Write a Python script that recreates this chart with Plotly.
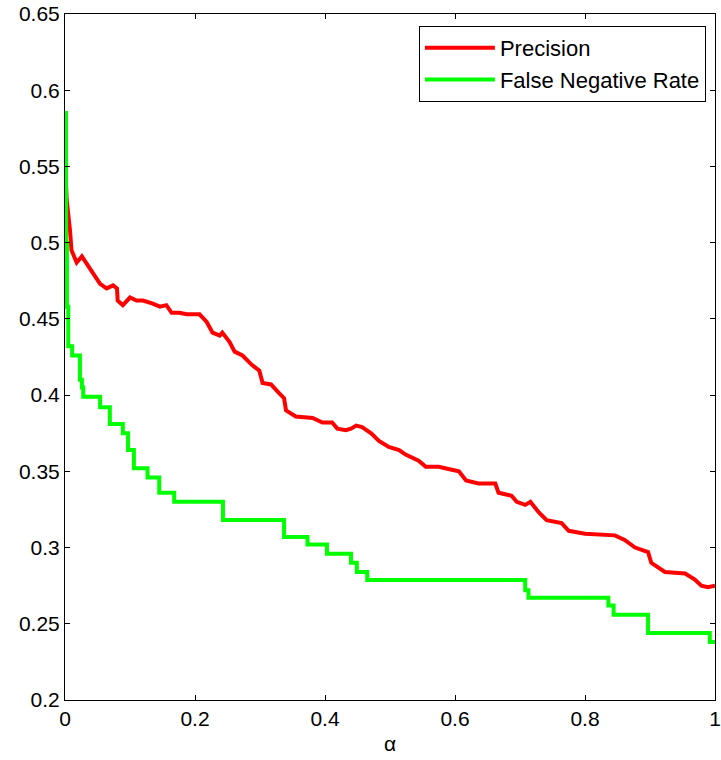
import plotly.graph_objects as go

# Precision as a function of alpha
prec_alpha = [0, 0.0026, 0.0077, 0.010, 0.018, 0.026, 0.043, 0.054, 0.064, 0.074,
              0.080, 0.081, 0.089, 0.100, 0.110, 0.120, 0.135, 0.146, 0.156, 0.164,
              0.176, 0.187, 0.207, 0.218, 0.227, 0.238, 0.242, 0.253, 0.261, 0.273,
              0.287, 0.299, 0.304, 0.317, 0.330, 0.337, 0.340, 0.355, 0.381, 0.396,
              0.411, 0.419, 0.432, 0.440, 0.448, 0.457, 0.471, 0.483, 0.498, 0.514,
              0.524, 0.544, 0.555, 0.575, 0.595, 0.606, 0.617, 0.636, 0.662, 0.667,
              0.687, 0.695, 0.708, 0.716, 0.729, 0.741, 0.764, 0.775, 0.800, 0.831,
              0.846, 0.861, 0.877, 0.897, 0.902, 0.923, 0.954, 0.969, 0.979, 0.989, 1.0]
precision = [0.554, 0.528, 0.508, 0.495, 0.487, 0.491, 0.480, 0.473, 0.470, 0.472,
             0.470, 0.462, 0.459, 0.464, 0.462, 0.462, 0.460, 0.458, 0.459, 0.454,
             0.454, 0.453, 0.453, 0.448, 0.441, 0.439, 0.441, 0.435, 0.4285, 0.426,
             0.420, 0.416, 0.408, 0.407, 0.401, 0.398, 0.390, 0.386, 0.385, 0.382,
             0.382, 0.378, 0.377, 0.378, 0.380, 0.379, 0.375, 0.370, 0.366, 0.364,
             0.361, 0.357, 0.353, 0.353, 0.351, 0.350, 0.344, 0.342, 0.342, 0.336,
             0.334, 0.330, 0.328, 0.330, 0.323, 0.318, 0.316, 0.311, 0.309, 0.308,
             0.308, 0.305, 0.300, 0.297, 0.290, 0.284, 0.283, 0.279, 0.275, 0.274, 0.275]

# False negative rate: piecewise constant, value holds until the next alpha
fnr_alpha = [0, 0.0015, 0.003, 0.005, 0.011, 0.023, 0.026, 0.028, 0.054, 0.069,
             0.089, 0.097, 0.106, 0.127, 0.145, 0.168, 0.243, 0.337, 0.373, 0.403,
             0.440, 0.449, 0.465, 0.708, 0.713, 0.836, 0.844, 0.897, 0.992, 1.0]
fnr = [0.585, 0.500, 0.458, 0.432, 0.426, 0.410, 0.405, 0.399, 0.392, 0.381,
       0.375, 0.364, 0.352, 0.346, 0.336, 0.330, 0.318, 0.307, 0.302, 0.296,
       0.290, 0.284, 0.2787, 0.272, 0.267, 0.262, 0.256, 0.244, 0.238, 0.238]

x_ticks = [0, 0.2, 0.4, 0.6, 0.8, 1]
x_tick_text = ["0", "0.2", "0.4", "0.6", "0.8", "1"]
y_ticks = [0.2, 0.25, 0.3, 0.35, 0.4, 0.45, 0.5, 0.55, 0.6, 0.65]
y_tick_text = ["0.2", "0.25", "0.3", "0.35", "0.4", "0.45", "0.5", "0.55", "0.6", "0.65"]

FONT = "Liberation Sans, Arial, sans-serif"

fig = go.Figure()
fig.add_trace(go.Scatter(x=prec_alpha, y=precision, mode="lines", name="Precision",
                         line=dict(color="#ff0000", width=4)))
fig.add_trace(go.Scatter(x=fnr_alpha, y=fnr, mode="lines", name="False Negative Rate",
                         line=dict(color="#00ff00", width=4, shape="hv")))

axis_common = dict(showline=True, linecolor="black", linewidth=1, mirror="allticks",
                   ticks="inside", ticklen=5, tickcolor="black", tickwidth=1,
                   showgrid=False, zeroline=False, ticklabeloverflow="allow",
                   automargin=False,
                   tickfont=dict(family=FONT, size=21, color="black"))

fig.update_xaxes(range=[0, 1], tickvals=x_ticks, ticktext=x_tick_text,
                 title=dict(text="α", font=dict(family=FONT, size=21, color="black"),
                            standoff=7),
                 **axis_common)
fig.update_yaxes(range=[0.2, 0.65], tickvals=y_ticks, ticktext=y_tick_text,
                 **axis_common)

fig.update_layout(
    width=721, height=760,
    margin=dict(l=65, r=6, t=14, b=60, autoexpand=False),
    paper_bgcolor="white", plot_bgcolor="white",
    showlegend=True,
    legend=dict(x=0.986, y=0.9825, xanchor="right", yanchor="top",
                bgcolor="white", bordercolor="black", borderwidth=1,
                font=dict(family=FONT, size=22, color="black"),
                itemwidth=70, tracegroupgap=0),
)

fig.write_html("out.html")
